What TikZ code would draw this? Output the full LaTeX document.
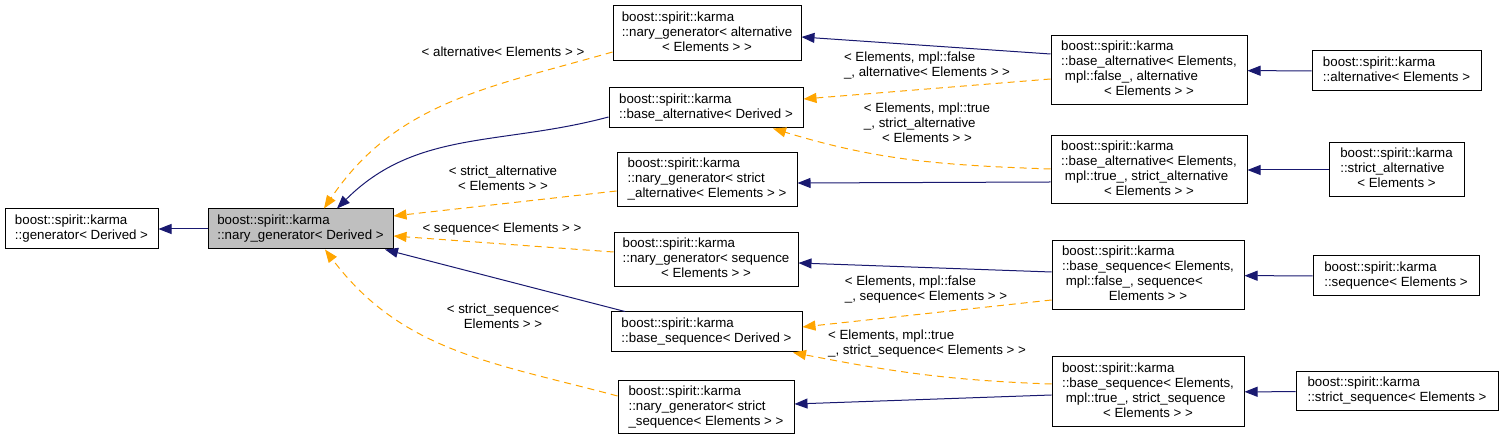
\documentclass[tikz,border=0pt]{standalone}
\usepackage{fontspec}
\setmainfont{Liberation Sans}
\usetikzlibrary{arrows.meta}

\definecolor{edgeblue}{HTML}{191970}
\definecolor{edgeorange}{HTML}{FFA500}
\definecolor{basegray}{HTML}{BFBFBF}

\newcommand{\cls}[1]{\begin{tabular}{@{}l@{}}#1\end{tabular}}
\newcommand{\ctrline}[1]{\multicolumn{1}{@{}c@{}}{#1}}

\begin{document}
\begin{tikzpicture}[x=1pt,y=1pt,font=\fontsize{13.3}{15}\selectfont,
	class node/.style={draw,line width=1pt,inner sep=0pt,fill=white},
	base node/.style={class node,fill=basegray},
	public/.style={-{Triangle[length=13pt,width=10pt]},edgeblue,line width=1pt},
	tmpl/.style={-{Triangle[length=13pt,width=10pt]},edgeorange,line width=1pt,dash pattern=on 7pt off 5pt}]
	
	\useasboundingbox (0,0) rectangle (1503,441);
	
	% left part
	\node[class node,minimum width=153pt,minimum height=40pt] (gen) at (81.5,212) {\cls{boost::spirit::karma\\::generator< Derived >}};
	\node[base node,minimum width=185pt,minimum height=40pt] (nary) at (300.5,212) {\cls{boost::spirit::karma\\::nary\_generator< Derived >}};
	
	% middle column
	\node[class node,minimum width=188pt,minimum height=55pt] (naryAlt) at (707,407.5) {\cls{boost::spirit::karma\\::nary\_generator< alternative\\\ctrline{< Elements > >}}};
	\node[class node,minimum width=194pt,minimum height=40pt] (baseAltD) at (706,333) {\cls{boost::spirit::karma\\::base\_alternative< Derived >}};
	\node[class node,minimum width=180pt,minimum height=54pt] (narySAlt) at (707,261) {\cls{boost::spirit::karma\\::nary\_generator< strict\\\_alternative< Elements > >}};
	\node[class node,minimum width=184pt,minimum height=54pt] (narySeq) at (706,181) {\cls{boost::spirit::karma\\::nary\_generator< sequence\\\ctrline{< Elements > >}}};
	\node[class node,minimum width=191pt,minimum height=40pt] (baseSeqD) at (706.5,109) {\cls{boost::spirit::karma\\::base\_sequence< Derived >}};
	\node[class node,minimum width=176pt,minimum height=53pt] (narySSeq) at (706,33.5) {\cls{boost::spirit::karma\\::nary\_generator< strict\\\_sequence< Elements > >}};
	
	% base classes with template arguments
	\node[class node,minimum width=196pt,minimum height=69pt] (baseAltF) at (1149,370.5) {\cls{boost::spirit::karma\\::base\_alternative< Elements,\\\hspace*{0.28em}mpl::false\_, alternative\\\ctrline{< Elements > >}}};
	\node[class node,minimum width=196pt,minimum height=68pt] (baseAltT) at (1149,271) {\cls{boost::spirit::karma\\::base\_alternative< Elements,\\\hspace*{0.28em}mpl::true\_, strict\_alternative\\\ctrline{< Elements > >}}};
	\node[class node,minimum width=192pt,minimum height=69pt] (baseSeqF) at (1148,165.5) {\cls{boost::spirit::karma\\::base\_sequence< Elements,\\\hspace*{0.28em}mpl::false\_, sequence<\\\ctrline{Elements > >}}};
	\node[class node,minimum width=192pt,minimum height=70pt] (baseSeqT) at (1148,49) {\cls{boost::spirit::karma\\::base\_sequence< Elements,\\\hspace*{0.28em}mpl::true\_, strict\_sequence\\\ctrline{< Elements > >}}};
	
	% right column
	\node[class node,minimum width=169pt,minimum height=40pt] (alt) at (1396.5,370) {\cls{boost::spirit::karma\\::alternative< Elements >}};
	\node[class node,minimum width=135pt,minimum height=54pt] (sAlt) at (1396.5,271) {\cls{boost::spirit::karma\\::strict\_alternative\\\ctrline{< Elements >}}};
	\node[class node,minimum width=166pt,minimum height=40pt] (seq) at (1396,165) {\cls{boost::spirit::karma\\::sequence< Elements >}};
	\node[class node,minimum width=202pt,minimum height=39pt] (sSeq) at (1397,49.5) {\cls{boost::spirit::karma\\::strict\_sequence< Elements >}};
	
	% edge labels
	\node (lAlt) at (503,389) {< alternative< Elements > >};
	\node (lSAlt) at (503,261) {\cls{< strict\_alternative\\\ctrline{< Elements > >}}};
	\node (lSeq) at (502,212) {< sequence< Elements > >};
	\node (lSSeq) at (503,123) {\cls{< strict\_sequence<\\\ctrline{Elements > >}}};
	\node (lAltF) at (927,375) {\cls{< Elements, mpl::false\\\_, alternative< Elements > >}};
	\node (lAltT) at (927,316) {\cls{< Elements, mpl::true\\\_, strict\_alternative\\\ctrline{< Elements > >}}};
	\node (lSeqF) at (926,151) {\cls{< Elements, mpl::false\\\_, sequence< Elements > >}};
	\node (lSeqT) at (927,97) {\cls{< Elements, mpl::true\\\_, strict\_sequence< Elements > >}};
	
	\path
	(nary) edge[public] (gen)
	([yshift=-18.5pt]naryAlt.west) edge[tmpl,out=196,in=56] ([xshift=23.5pt]nary.north)
	([yshift=-9pt]baseAltD.west) edge[public,out=195,in=45] ([xshift=36.5pt]nary.north)
	([yshift=-11pt]narySAlt.west) edge[tmpl] ([yshift=13pt]nary.east)
	([yshift=8pt]narySeq.west) edge[tmpl] ([yshift=-7pt]nary.east)
	([xshift=-81.5pt]baseSeqD.north) edge[public] ([xshift=84.5pt]nary.south)
	([yshift=11.5pt]narySSeq.west) edge[tmpl,out=165,in=-53] ([xshift=24.5pt]nary.south)
	
	([yshift=16.5pt]baseAltF.west) edge[public] ([yshift=-3.5pt]naryAlt.east)
	([yshift=-8.5pt]baseAltF.west) edge[tmpl] ([yshift=9pt]baseAltD.east)
	([yshift=1pt]baseAltT.west) edge[tmpl,out=178,in=-17] ([xshift=67pt]baseAltD.south)
	([yshift=-12pt]baseAltT.west) edge[public] ([yshift=-3pt]narySAlt.east)
	([yshift=3.5pt]baseSeqF.west) edge[public] ([yshift=-3pt]narySeq.east)
	([yshift=-24.5pt]baseSeqF.west) edge[tmpl] ([yshift=5pt]baseSeqD.east)
	([yshift=8pt]baseSeqT.west) edge[tmpl,out=178,in=-11] ([xshift=86.5pt]baseSeqD.south)
	([yshift=-3pt]baseSeqT.west) edge[public] ([yshift=3.5pt]narySSeq.east)
	
	(alt) edge[public] (baseAltF)
	(sAlt) edge[public] (baseAltT)
	(seq) edge[public] (baseSeqF)
	(sSeq) edge[public] (baseSeqT)
	;
\end{tikzpicture}
\end{document}
